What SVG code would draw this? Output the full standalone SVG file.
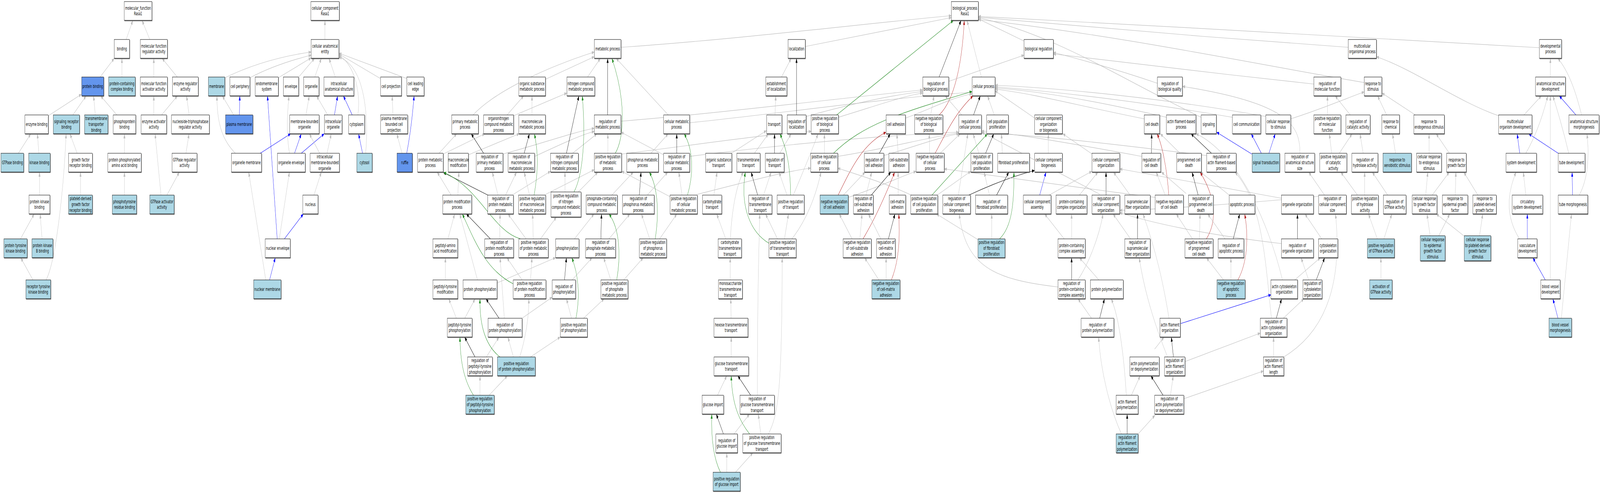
<svg xmlns="http://www.w3.org/2000/svg" width="7573" height="1261" viewBox="0 0 7573 1261" preserveAspectRatio="none">
<style>
@media (max-width: 7560px) { svg:root { width: 100vw; height: 100vh; } }
.e{fill:none;stroke-width:1.2}
.g{stroke:#BEBEBE;marker-end:url(#ag)}
.k{stroke:#000;marker-end:url(#ak)}
.gr{stroke:#228B22;marker-end:url(#agr)}
.r{stroke:#B22222;marker-end:url(#ar)}
.b{stroke:#0000FF;marker-end:url(#ab)}
.n{stroke:#000;stroke-width:1;filter:url(#sh)}
.w{fill:#fff}
.lb{fill:#ADD8E6}
.cb{fill:#6495ED}
.t{font-family:"DejaVu Sans","Liberation Sans",sans-serif;font-size:12.8px;text-anchor:middle;fill:#000}
</style>
<defs>
<filter id="sh" x="-5%" y="-5%" width="115%" height="130%"><feDropShadow dx="1.5" dy="1.5" stdDeviation="0" flood-color="#555"/></filter>
<marker id="ag" viewBox="0 0 12 9" refX="12" refY="4.5" markerWidth="12" markerHeight="9" markerUnits="userSpaceOnUse" orient="auto"><path d="M0,0 L12,4.5 L0,9 z" fill="#BEBEBE"/></marker>
<marker id="ak" viewBox="0 0 12 9" refX="12" refY="4.5" markerWidth="12" markerHeight="9" markerUnits="userSpaceOnUse" orient="auto"><path d="M0,0 L12,4.5 L0,9 z" fill="#000"/></marker>
<marker id="agr" viewBox="0 0 12 9" refX="12" refY="4.5" markerWidth="12" markerHeight="9" markerUnits="userSpaceOnUse" orient="auto"><path d="M0,0 L12,4.5 L0,9 z" fill="#228B22"/></marker>
<marker id="ar" viewBox="0 0 12 9" refX="12" refY="4.5" markerWidth="12" markerHeight="9" markerUnits="userSpaceOnUse" orient="auto"><path d="M0,0 L12,4.5 L0,9 z" fill="#B22222"/></marker>
<marker id="ab" viewBox="0 0 12 9" refX="12" refY="4.5" markerWidth="12" markerHeight="9" markerUnits="userSpaceOnUse" orient="auto"><path d="M0,0 L12,4.5 L0,9 z" fill="#0000FF"/></marker>
</defs>
<rect x="0" y="0" width="7573" height="1261" fill="#fff"/>
<g id="edges">
<path class="e g" d="M597,101 L629,52"/>
<path class="e g" d="M709,101 L672,52"/>
<path class="e g" d="M474,197 L541,149"/>
<path class="e g" d="M577,197 L577,149"/>
<path class="e g" d="M728,197 L728,149"/>
<path class="e g" d="M839,197 L767,149"/>
<path class="e g" d="M229,296 L386,241"/>
<path class="e g" d="M345,294 L408,245"/>
<path class="e g" d="M451,294 L443,245"/>
<path class="e g" d="M553,294 L476,245"/>
<path class="e g" d="M728,294 L728,245"/>
<path class="e g" d="M765,294 L840,245"/>
<path class="e g" d="M895,294 L883,245"/>
<path class="e g" d="M87,392 L146,342"/>
<path class="e g" d="M184,392 L177,342"/>
<path class="e g" d="M365,392 L331,342"/>
<path class="e g" d="M589,392 L589,342"/>
<path class="e g" d="M880,392 L895,342"/>
<path class="e g" d="M187,499 L187,440"/>
<path class="e g" d="M381,499 L381,440"/>
<path class="e g" d="M589,499 L589,440"/>
<path class="e g" d="M762,499 L734,342"/>
<path class="e g" d="M790,499 L849,440"/>
<path class="e g" d="M97,611 L162,547"/>
<path class="e g" d="M199,611 L190,547"/>
<path class="e g" d="M156,716 L98,659"/>
<path class="e g" d="M218,716 C265,668 302,482 313,342"/>
<path class="e g" d="M1538,101 L1538,52"/>
<path class="e g" d="M1064,199 Q1250,150 1473,133"/>
<path class="e g" d="M1183,199 Q1300,165 1473,141"/>
<path class="e g" d="M1317,199 L1473,148"/>
<path class="e g" d="M1414,197 L1489,149"/>
<path class="e g" d="M1490,197 L1521,149"/>
<path class="e g" d="M1587,197 L1557,149"/>
<path class="e g" d="M1694,294 C1710,230 1670,160 1604,142"/>
<path class="e g" d="M1731,392 C1745,300 1730,170 1604,146"/>
<path class="e g" d="M1801,201 L1604,138"/>
<path class="e g" d="M1926,201 L1604,136"/>
<path class="e g" d="M1106,294 L1052,245"/>
<path class="e b" d="M1133,294 L1135,245"/>
<path class="e g" d="M1114,392 C1059,362 1026,322 1027,245"/>
<path class="e b" d="M1232,392 L1376,342"/>
<path class="e b" d="M1312,611 L1266,245"/>
<path class="e g" d="M1258,716 L1177,440"/>
<path class="e b" d="M1276,716 L1303,659"/>
<path class="e g" d="M1448,294 L1464,245"/>
<path class="e g" d="M1551,294 L1498,245"/>
<path class="e b" d="M1583,294 L1598,245"/>
<path class="e b" d="M1667,294 L1625,245"/>
<path class="e g" d="M1860,294 L1856,245"/>
<path class="e g" d="M1903,392 L1878,342"/>
<path class="e b" d="M1925,392 C1944,338 1953,290 1960,245"/>
<path class="e g" d="M1370,392 C1356,346 1358,298 1368,245"/>
<path class="e b" d="M1394,392 L1426,342"/>
<path class="e b" d="M1426,392 L1535,342"/>
<path class="e g" d="M1513,392 L1464,342"/>
<path class="e g" d="M1548,392 L1568,342"/>
<path class="e b" d="M1716,392 L1697,342"/>
<path class="e g" d="M1486,499 L1521,440"/>
<path class="e g" d="M1322,611 L1370,440"/>
<path class="e b" d="M1346,611 L1436,547"/>
<path class="e g" d="M2239,294 C2350,230 2600,170 2813,133"/>
<path class="e g" d="M2581,203 L2813,145"/>
<path class="e g" d="M2400,294 L2479,245"/>
<path class="e g" d="M2431,296 L2683,238"/>
<path class="e g" d="M2518,294 L2518,245"/>
<path class="e g" d="M2078,392 L2162,342"/>
<path class="e g" d="M2098,394 L2295,342"/>
<path class="e g" d="M2217,396 L2458,342"/>
<path class="e k" d="M2289,392 L2230,342"/>
<path class="e g" d="M2380,394 C2550,370 2700,340 2813,328"/>
<path class="e k" d="M2481,392 L2506,342"/>
<path class="e g" d="M2531,400 C2650,370 2750,345 2813,336"/>
<path class="e k" d="M2681,392 L2740,245"/>
<path class="e g" d="M2710,392 L2826,342"/>
<path class="e g" d="M2135,499 L2069,440"/>
<path class="e g" d="M2167,499 L2172,440"/>
<path class="e k" d="M2309,499 L2098,441"/>
<path class="e g" d="M2357,499 L2330,440"/>
<path class="e g" d="M2393,499 L2445,440"/>
<path class="e g" d="M2430,497 L2606,438"/>
<path class="e g" d="M2506,499 L2481,440"/>
<path class="e gr" d="M2528,499 C2549,434 2547,386 2529,342"/>
<path class="e g" d="M2583,497 L2813,434"/>
<path class="e g" d="M2674,491 L2674,440"/>
<path class="e gr" d="M2717,491 C2756,450 2774,362 2756,245"/>
<path class="e g" d="M2737,491 L2830,440"/>
<path class="e g" d="M2120,611 L2152,547"/>
<path class="e k" d="M2321,611 L2207,547"/>
<path class="e g" d="M2365,611 L2367,547"/>
<path class="e g" d="M2490,611 L2404,547"/>
<path class="e g" d="M2524,611 L2521,547"/>
<path class="e gr" d="M2463,611 C2330,590 2270,480 2100,441"/>
<path class="e g" d="M2558,611 L2634,555"/>
<path class="e g" d="M2108,716 L2108,659"/>
<path class="e g" d="M2260,716 L2176,547"/>
<path class="e g" d="M2352,724 L2630,659"/>
<path class="e g" d="M2471,716 L2399,659"/>
<path class="e g" d="M2511,716 L2518,659"/>
<path class="e gr" d="M2429,726 C2300,690 2250,620 2188,547"/>
<path class="e k" d="M2672,716 L2681,659"/>
<path class="e g" d="M2160,814 L2124,764"/>
<path class="e g" d="M2200,814 L2249,764"/>
<path class="e k" d="M2362,814 L2300,764"/>
<path class="e g" d="M2387,814 L2367,659"/>
<path class="e g" d="M2471,814 L2614,760"/>
<path class="e g" d="M2705,814 L2681,764"/>
<path class="e gr" d="M2726,814 C2747,756 2737,700 2706,659"/>
<path class="e g" d="M2762,814 L2860,764"/>
<path class="e g" d="M2708,716 L2803,659"/>
<path class="e k" d="M2248,913 L2199,862"/>
<path class="e g" d="M2302,913 L2362,862"/>
<path class="e g" d="M2430,913 L2404,862"/>
<path class="e gr" d="M2366,913 C2282,877 2270,812 2272,764"/>
<path class="e g" d="M2460,913 C2486,868 2504,812 2503,764"/>
<path class="e g" d="M2511,913 L2652,862"/>
<path class="e g" d="M2272,1011 L2272,961"/>
<path class="e gr" d="M2241,1011 C2187,965 2178,909 2177,862"/>
<path class="e g" d="M2315,1011 L2402,961"/>
<path class="e g" d="M2939,121 C3500,100 4100,60 4503,40"/>
<path class="e g" d="M2781,197 L2842,149"/>
<path class="e k" d="M2876,294 L2876,149"/>
<path class="e g" d="M2939,310 C3400,290 4000,250 4367,230"/>
<path class="e g" d="M3163,294 L2916,149"/>
<path class="e g" d="M3264,314 C3700,290 4200,250 4601,236"/>
<path class="e g" d="M2877,392 L2877,342"/>
<path class="e gr" d="M2912,392 C2955,354 2964,257 2896,149"/>
<path class="e g" d="M2942,394 C3300,370 3600,345 3840,336"/>
<path class="e k" d="M3203,392 L3203,342"/>
<path class="e g" d="M3141,396 L2939,338"/>
<path class="e g" d="M3264,400 C3700,370 4200,345 4538,338"/>
<path class="e g" d="M3081,392 L3163,342"/>
<path class="e g" d="M2896,499 L2998,440"/>
<path class="e k" d="M3026,499 L3034,440"/>
<path class="e g" d="M3064,499 L3161,440"/>
<path class="e g" d="M3228,499 L3213,440"/>
<path class="e gr" d="M3254,499 C3281,450 3285,386 3238,342"/>
<path class="e g" d="M3171,503 L2942,438"/>
<path class="e g" d="M3300,497 C3500,470 3700,440 3837,430"/>
<path class="e g" d="M2719,611 L2812,547"/>
<path class="e k" d="M2844,611 L2847,547"/>
<path class="e g" d="M2882,611 L2982,547"/>
<path class="e g" d="M3075,611 L3036,547"/>
<path class="e gr" d="M3101,611 C3118,555 3118,483 3073,440"/>
<path class="e g" d="M3122,611 L3204,547"/>
<path class="e g" d="M2891,716 L2857,659"/>
<path class="e gr" d="M2919,716 C2937,660 2937,587 2882,547"/>
<path class="e g" d="M2952,716 L3045,659"/>
<path class="e g" d="M3811,119 C4100,90 4350,60 4503,45"/>
<path class="e g" d="M3699,197 L3745,149"/>
<path class="e k" d="M3770,294 L3770,149"/>
<path class="e g" d="M3815,298 C4000,270 4200,245 4367,234"/>
<path class="e g" d="M3668,294 L3672,245"/>
<path class="e gr" d="M3960,294 L4513,52"/>
<path class="e g" d="M3968,300 C4150,270 4280,245 4367,238"/>
<path class="e g" d="M3902,392 L3902,342"/>
<path class="e gr" d="M3945,392 C4080,320 4250,290 4601,234"/>
<path class="e g" d="M3965,400 C4200,380 4400,350 4538,340"/>
<path class="e g" d="M3462,392 L3628,334"/>
<path class="e g" d="M3571,392 L3637,342"/>
<path class="e k" d="M3666,392 L3666,342"/>
<path class="e g" d="M3691,392 L3745,342"/>
<path class="e g" d="M3379,499 L3394,440"/>
<path class="e k" d="M3586,499 L3555,440"/>
<path class="e g" d="M3614,499 L3650,440"/>
<path class="e g" d="M3725,499 L3687,440"/>
<path class="e gr" d="M3742,499 C3741,426 3723,378 3691,342"/>
<path class="e g" d="M3755,499 C3800,440 3840,390 3872,342"/>
<path class="e r" d="M3967,499 C4030,430 4080,370 4194,338"/>
<path class="e g" d="M3992,499 L4095,440"/>
<path class="e g" d="M4015,505 C4150,480 4250,455 4336,438"/>
<path class="e g" d="M3435,611 L3392,547"/>
<path class="e g" d="M3457,611 C3465,523 3492,466 3519,440"/>
<path class="e g" d="M3680,611 L3623,547"/>
<path class="e g" d="M3713,611 L3732,547"/>
<path class="e gr" d="M3639,622 C3555,595 3501,531 3528,440"/>
<path class="e g" d="M3748,611 C3818,563 3863,499 3886,440"/>
<path class="e g" d="M4070,611 L4080,547"/>
<path class="e g" d="M4033,611 L3972,547"/>
<path class="e r" d="M4085,611 C4110,587 4156,547 4235,440"/>
<path class="e g" d="M3456,716 L3456,659"/>
<path class="e g" d="M3460,814 L3459,764"/>
<path class="e g" d="M3461,913 L3461,862"/>
<path class="e g" d="M3396,1011 L3440,961"/>
<path class="e k" d="M3553,1011 L3492,961"/>
<path class="e g" d="M3585,1011 C3584,850 3588,700 3596,547"/>
<path class="e k" d="M3424,1110 L3390,1059"/>
<path class="e g" d="M3474,1110 L3548,1059"/>
<path class="e g" d="M3601,1110 L3589,1059"/>
<path class="e gr" d="M3548,1110 C3501,1078 3465,1037 3461,961"/>
<path class="e g" d="M3637,1110 C3682,1062 3702,1005 3702,659"/>
<path class="e g" d="M3440,1208 L3440,1158"/>
<path class="e gr" d="M3410,1208 C3379,1174 3365,1126 3369,1059"/>
<path class="e g" d="M3481,1208 L3564,1158"/>
<path class="e k" d="M4445,197 L4549,52"/>
<path class="e r" d="M4445,294 C4518,257 4554,161 4564,52"/>
<path class="e g" d="M4645,197 L4577,52"/>
<path class="e g" d="M4405,294 L4421,245"/>
<path class="e k" d="M4608,294 L4640,245"/>
<path class="e g" d="M4552,294 L4473,245"/>
<path class="e g" d="M4706,294 L4674,245"/>
<path class="e g" d="M4286,302 C4400,280 4500,250 4601,240"/>
<path class="e k" d="M4162,392 L4214,342"/>
<path class="e g" d="M4183,398 C4300,380 4450,350 4540,342"/>
<path class="e g" d="M4251,392 L4245,342"/>
<path class="e g" d="M4400,392 L4398,342"/>
<path class="e r" d="M4426,392 C4473,346 4518,290 4606,245"/>
<path class="e g" d="M4450,392 L4545,342"/>
<path class="e k" d="M4665,392 L4704,342"/>
<path class="e g" d="M4633,392 L4606,342"/>
<path class="e g" d="M4744,392 L4740,342"/>
<path class="e k" d="M4124,499 L4217,440"/>
<path class="e g" d="M4099,499 L4126,440"/>
<path class="e g" d="M4251,499 L4251,440"/>
<path class="e g" d="M4436,499 L4595,438"/>
<path class="e gr" d="M4411,499 L4674,342"/>
<path class="e g" d="M4313,499 C4200,470 4050,445 3965,430"/>
<path class="e g" d="M4536,499 L4581,342"/>
<path class="e k" d="M4586,499 C4700,470 4800,450 4897,436"/>
<path class="e g" d="M4683,499 L4658,440"/>
<path class="e k" d="M4717,499 L4775,440"/>
<path class="e g" d="M4694,611 L4694,547"/>
<path class="e g" d="M4629,613 L4432,547"/>
<path class="e gr" d="M4731,611 C4790,580 4800,520 4799,440"/>
<path class="e g" d="M5007,734 C4700,715 4570,680 4540,547"/>
<path class="e k" d="M4205,611 L4236,547"/>
<path class="e g" d="M4169,611 L4110,547"/>
<path class="e g" d="M4160,716 L4092,659"/>
<path class="e g" d="M4194,716 L4194,659"/>
<path class="e r" d="M4219,716 C4255,668 4260,611 4254,547"/>
<path class="e g" d="M4847,105 L4630,48"/>
<path class="e g" d="M4491,208 L4847,141"/>
<path class="e g" d="M4897,302 L4709,232"/>
<path class="e g" d="M4962,392 L4962,342"/>
<path class="e g" d="M5169,394 L5030,342"/>
<path class="e k" d="M5235,499 L5235,440"/>
<path class="e g" d="M5206,497 C5000,440 4800,380 4646,338"/>
<path class="e b" d="M4921,499 L4951,440"/>
<path class="e g" d="M4966,499 L5168,438"/>
<path class="e g" d="M5109,499 L5197,440"/>
<path class="e g" d="M5349,499 L5270,440"/>
<path class="e g" d="M5037,611 L4944,547"/>
<path class="e g" d="M5072,611 L5072,547"/>
<path class="e k" d="M5072,716 L5072,659"/>
<path class="e g" d="M5102,716 C5150,676 5200,611 5221,547"/>
<path class="e g" d="M5201,716 L5109,659"/>
<path class="e k" d="M5384,611 L5384,547"/>
<path class="e g" d="M5351,611 L5268,547"/>
<path class="e k" d="M5205,814 L5228,764"/>
<path class="e g" d="M5166,814 L5102,764"/>
<path class="e g" d="M5331,1011 C5322,925 5299,812 5259,764"/>
<path class="e g" d="M5355,1011 L5397,961"/>
<path class="e k" d="M5335,1110 L5335,1059"/>
<path class="e g" d="M5308,1110 C5254,1046 5209,949 5200,862"/>
<path class="e g" d="M5387,1110 L5467,1062"/>
<path class="e k" d="M5450,392 L5451,342"/>
<path class="e k" d="M5505,1011 L5447,961"/>
<path class="e g" d="M5526,913 C5480,850 5420,760 5392,659"/>
<path class="e g" d="M5533,814 C5505,720 5470,640 5410,547"/>
<path class="e g" d="M6065,623 C5700,600 5450,570 5300,544"/>
<path class="e g" d="M6065,507 C5700,470 5450,445 5300,432"/>
<path class="e g" d="M6242,502 C5900,520 5500,535 5300,538"/>
<path class="e g" d="M5478,213 C5300,180 5100,150 4986,134"/>
<path class="e g" d="M5416,304 C5100,270 4900,240 4710,228"/>
<path class="e g" d="M5521,300 C5200,260 4950,235 4710,225"/>
<path class="e g" d="M5685,300 C5300,200 5000,90 4630,45"/>
<path class="e g" d="M5833,300 C5400,260 5000,235 4710,222"/>
<path class="e g" d="M6109,304 C6250,280 6380,250 6457,235"/>
<path class="e g" d="M5992,298 C5500,250 5000,225 4710,218"/>
<path class="e g" d="M5404,400 C5100,370 4850,345 4646,335"/>
<path class="e g" d="M5585,392 L5492,342"/>
<path class="e k" d="M5734,392 L5637,342"/>
<path class="e g" d="M5711,398 C5300,370 4900,345 4646,340"/>
<path class="e b" d="M5925,394 L5758,338"/>
<path class="e b" d="M5970,392 L5922,342"/>
<path class="e b" d="M6006,392 L6036,342"/>
<path class="e g" d="M6153,392 C6153,320 6100,265 5597,221"/>
<path class="e g" d="M5515,499 L5472,440"/>
<path class="e r" d="M5532,499 C5524,434 5501,370 5476,342"/>
<path class="e g" d="M5468,505 C5100,480 4700,450 4469,432"/>
<path class="e k" d="M5671,499 L5642,440"/>
<path class="e g" d="M5614,495 L5497,440"/>
<path class="e g" d="M5818,499 L5682,440"/>
<path class="e g" d="M5677,611 L5680,547"/>
<path class="e g" d="M5644,611 L5567,547"/>
<path class="e r" d="M5710,611 C5746,579 5773,523 5680,440"/>
<path class="e k" d="M5837,611 L5868,547"/>
<path class="e g" d="M5798,611 L5716,547"/>
<path class="e g" d="M5826,716 L5826,659"/>
<path class="e g" d="M5791,716 L5710,659"/>
<path class="e r" d="M5859,716 C5900,676 5913,611 5891,547"/>
<path class="e k" d="M6141,611 L6141,547"/>
<path class="e g" d="M6128,716 L6250,659"/>
<path class="e g" d="M6070,716 C6000,560 5850,390 5661,342"/>
<path class="e k" d="M6041,814 L6066,764"/>
<path class="e g" d="M6018,814 C5990,680 5980,520 5845,440"/>
<path class="e g" d="M6074,814 L6172,764"/>
<path class="e b" d="M5586,828 L6016,754"/>
<path class="e g" d="M5465,893 L5510,862"/>
<path class="e k" d="M5554,913 L5544,862"/>
<path class="e g" d="M5608,925 L5965,852"/>
<path class="e g" d="M6028,913 L6028,862"/>
<path class="e g" d="M6076,913 C6300,840 6350,700 6321,547"/>
<path class="e g" d="M5540,1011 L5553,961"/>
<path class="e g" d="M5603,1020 L5980,949"/>
<path class="e g" d="M6381,121 C5800,100 5200,70 4630,44"/>
<path class="e g" d="M6218,215 C5800,190 5300,160 4986,138"/>
<path class="e g" d="M6457,211 C6000,170 5300,90 4630,50"/>
<path class="e g" d="M6283,294 L6283,245"/>
<path class="e g" d="M6391,294 L6319,245"/>
<path class="e g" d="M6563,294 L6520,245"/>
<path class="e g" d="M6699,294 L6541,238"/>
<path class="e g" d="M6303,392 L6292,342"/>
<path class="e g" d="M6339,392 L6400,342"/>
<path class="e g" d="M6452,392 L6437,342"/>
<path class="e g" d="M6605,392 L6591,342"/>
<path class="e g" d="M6764,392 L6764,342"/>
<path class="e g" d="M6860,392 L6797,342"/>
<path class="e g" d="M6269,499 L6194,440"/>
<path class="e g" d="M6459,499 L6459,440"/>
<path class="e g" d="M6425,499 L6346,440"/>
<path class="e g" d="M6568,499 L6495,440"/>
<path class="e g" d="M6748,499 L6758,440"/>
<path class="e g" d="M6779,499 L6860,440"/>
<path class="e g" d="M6888,499 L6891,440"/>
<path class="e g" d="M6256,611 L6176,547"/>
<path class="e k" d="M6230,716 L6270,659"/>
<path class="e g" d="M6194,716 L6158,659"/>
<path class="e g" d="M6519,611 L6477,547"/>
<path class="e g" d="M6550,611 L6588,547"/>
<path class="e g" d="M6536,716 L6536,659"/>
<path class="e g" d="M6769,603 L6754,547"/>
<path class="e g" d="M6810,603 L6862,547"/>
<path class="e g" d="M7286,122 C6500,100 5500,65 4630,42"/>
<path class="e g" d="M7338,197 L7338,149"/>
<path class="e g" d="M7486,294 C7461,241 7429,185 7373,149"/>
<path class="e b" d="M7459,294 L7380,245"/>
<path class="e g" d="M7213,294 L7296,245"/>
<path class="e g" d="M7093,296 C6900,260 6700,180 6515,145"/>
<path class="e b" d="M7193,392 L7181,342"/>
<path class="e g" d="M7222,392 C7262,354 7298,306 7326,245"/>
<path class="e b" d="M7375,392 L7235,342"/>
<path class="e g" d="M7425,392 C7398,330 7371,282 7350,245"/>
<path class="e b" d="M7443,499 L7441,440"/>
<path class="e g" d="M7475,499 C7515,458 7524,402 7511,342"/>
<path class="e g" d="M7222,499 L7210,440"/>
<path class="e b" d="M7229,611 L7229,547"/>
<path class="e g" d="M7192,611 C7145,571 7118,515 7176,440"/>
<path class="e b" d="M7314,716 L7255,659"/>
<path class="e g" d="M7338,716 L7338,245"/>
<path class="e b" d="M7374,814 L7350,764"/>
<path class="e g" d="M7390,814 L7438,547"/>
<path class="e g" d="M6995,499 L6928,440"/>
<path class="e g" d="M7003,603 L7018,547"/>
<path class="e g" d="M6928,603 L6798,547"/>
</g>
<g id="nodes">
<g id="n-mf-root"><rect class="n w" x="588" y="4" width="131" height="48"/><text class="t" x="653.5" y="24.6">molecular_function<tspan x="653.5" dy="14.7">Rasa1</tspan></text></g>
<g id="n-binding"><rect class="n w" x="541" y="101" width="72" height="48"/><text class="t" x="577" y="129.5">binding</text></g>
<g id="n-mfra"><rect class="n w" x="664" y="101" width="128" height="48"/><text class="t" x="728" y="121.6">molecular function<tspan x="728" dy="14.7">regulator activity</tspan></text></g>
<g id="n-protein-binding"><rect class="n cb" x="386.5" y="197" width="104" height="48"/><text class="t" x="438.5" y="225.5">protein binding</text></g>
<g id="n-pcb"><rect class="n lb" x="514" y="197" width="126" height="48"/><text class="t" x="577" y="217.6">protein-containing<tspan x="577" dy="14.7">complex binding</tspan></text></g>
<g id="n-mfaa"><rect class="n w" x="664" y="197" width="128" height="48"/><text class="t" x="728" y="217.6">molecular function<tspan x="728" dy="14.7">activator activity</tspan></text></g>
<g id="n-era"><rect class="n w" x="816.5" y="197" width="121.5" height="48"/><text class="t" x="877.3" y="217.6">enzyme regulator<tspan x="877.3" dy="14.7">activity</tspan></text></g>
<g id="n-enzyme-binding"><rect class="n w" x="118" y="294" width="110.6" height="48"/><text class="t" x="173.3" y="322.5">enzyme binding</text></g>
<g id="n-srb"><rect class="n lb" x="252.7" y="294" width="123.6" height="48"/><text class="t" x="314.5" y="314.6">signaling receptor<tspan x="314.5" dy="14.7">binding</tspan></text></g>
<g id="n-ttb"><rect class="n lb" x="400.4" y="294" width="110.2" height="48"/><text class="t" x="455.5" y="307.3">transmembrane<tspan x="455.5" dy="14.7">transporter</tspan><tspan x="455.5" dy="14.7">binding</tspan></text></g>
<g id="n-ppb"><rect class="n w" x="535.9" y="294" width="106.3" height="48"/><text class="t" x="589" y="314.6">phosphoprotein<tspan x="589" dy="14.7">binding</tspan></text></g>
<g id="n-eaa"><rect class="n w" x="667.6" y="294" width="120.8" height="48"/><text class="t" x="728" y="314.6">enzyme activator<tspan x="728" dy="14.7">activity</tspan></text></g>
<g id="n-ntpra"><rect class="n w" x="811.6" y="294" width="179.2" height="48"/><text class="t" x="901.2" y="314.6">nucleoside-triphosphatase<tspan x="901.2" dy="14.7">regulator activity</tspan></text></g>
<g id="n-gtpase-binding"><rect class="n lb" x="4.9" y="392" width="107.3" height="48"/><text class="t" x="58.5" y="420.5">GTPase binding</text></g>
<g id="n-kinase-binding"><rect class="n lb" x="135.9" y="392" width="101.7" height="48"/><text class="t" x="186.7" y="420.5">kinase binding</text></g>
<g id="n-gfrb"><rect class="n w" x="324.9" y="392" width="112.7" height="48"/><text class="t" x="381.2" y="412.6">growth factor<tspan x="381.2" dy="14.7">receptor binding</tspan></text></g>
<g id="n-ppaab"><rect class="n w" x="510.2" y="392" width="158.2" height="48"/><text class="t" x="589.3" y="412.6">protein phosphorylated<tspan x="589.3" dy="14.7">amino acid binding</tspan></text></g>
<g id="n-gra"><rect class="n w" x="814.5" y="392" width="117.5" height="48"/><text class="t" x="873.2" y="412.6">GTPase regulator<tspan x="873.2" dy="14.7">activity</tspan></text></g>
<g id="n-pkb"><rect class="n w" x="137.1" y="499" width="99.2" height="48"/><text class="t" x="186.7" y="519.6">protein kinase<tspan x="186.7" dy="14.7">binding</tspan></text></g>
<g id="n-pdgfrb"><rect class="n lb" x="324.9" y="499" width="112.7" height="48"/><text class="t" x="381.2" y="512.3">platelet-derived<tspan x="381.2" dy="14.7">growth factor</tspan><tspan x="381.2" dy="14.7">receptor binding</tspan></text></g>
<g id="n-ptrb"><rect class="n lb" x="531.4" y="499" width="115.3" height="48"/><text class="t" x="589" y="519.6">phosphotyrosine<tspan x="589" dy="14.7">residue binding</tspan></text></g>
<g id="n-gaa"><rect class="n lb" x="708.8" y="499" width="115.5" height="48"/><text class="t" x="766.5" y="519.6">GTPase activator<tspan x="766.5" dy="14.7">activity</tspan></text></g>
<g id="n-ptkb"><rect class="n lb" x="18.4" y="611" width="110.2" height="48"/><text class="t" x="73.5" y="631.6">protein tyrosine<tspan x="73.5" dy="14.7">kinase binding</tspan></text></g>
<g id="n-pkbb"><rect class="n lb" x="151.4" y="611" width="99.2" height="48"/><text class="t" x="201" y="631.6">protein kinase<tspan x="201" dy="14.7">B binding</tspan></text></g>
<g id="n-rtkb"><rect class="n lb" x="122.4" y="716" width="117.6" height="48"/><text class="t" x="181.2" y="736.6">receptor tyrosine<tspan x="181.2" dy="14.7">kinase binding</tspan></text></g>
<g id="n-cc-root"><rect class="n w" x="1471.5" y="4" width="134" height="48"/><text class="t" x="1538.5" y="24.6">cellular_component<tspan x="1538.5" dy="14.7">Rasa1</tspan></text></g>
<g id="n-cae"><rect class="n w" x="1472.8" y="101" width="131.4" height="48"/><text class="t" x="1538.5" y="121.6">cellular anatomical<tspan x="1538.5" dy="14.7">entity</tspan></text></g>
<g id="n-membrane"><rect class="n lb" x="986.3" y="197" width="77.6" height="48"/><text class="t" x="1025.1" y="225.5">membrane</text></g>
<g id="n-cell-periphery"><rect class="n w" x="1088.4" y="197" width="94.6" height="48"/><text class="t" x="1135.7" y="225.5">cell periphery</text></g>
<g id="n-endomembrane"><rect class="n w" x="1207.6" y="197" width="109.4" height="48"/><text class="t" x="1262.3" y="217.6">endomembrane<tspan x="1262.3" dy="14.7">system</tspan></text></g>
<g id="n-envelope"><rect class="n w" x="1341" y="197" width="72.5" height="48"/><text class="t" x="1377.3" y="225.5">envelope</text></g>
<g id="n-organelle"><rect class="n w" x="1437" y="197" width="72.5" height="48"/><text class="t" x="1473.3" y="225.5">organelle</text></g>
<g id="n-ias"><rect class="n w" x="1533" y="197" width="141.8" height="48"/><text class="t" x="1603.9" y="217.6">intracellular<tspan x="1603.9" dy="14.7">anatomical structure</tspan></text></g>
<g id="n-cell-projection"><rect class="n w" x="1801" y="197" width="99.3" height="48"/><text class="t" x="1850.7" y="225.5">cell projection</text></g>
<g id="n-cle"><rect class="n w" x="1926" y="197" width="81" height="48"/><text class="t" x="1966.5" y="217.6">cell leading<tspan x="1966.5" dy="14.7">edge</tspan></text></g>
<g id="n-plasma-membrane"><rect class="n cb" x="1067.5" y="294" width="129" height="48"/><text class="t" x="1132" y="322.5">plasma membrane</text></g>
<g id="n-mbo"><rect class="n w" x="1371.4" y="294" width="139" height="48"/><text class="t" x="1440.9" y="314.6">membrane-bounded<tspan x="1440.9" dy="14.7">organelle</tspan></text></g>
<g id="n-io"><rect class="n w" x="1535.3" y="294" width="83.7" height="48"/><text class="t" x="1577.2" y="314.6">intracellular<tspan x="1577.2" dy="14.7">organelle</tspan></text></g>
<g id="n-cytoplasm"><rect class="n w" x="1650.3" y="294" width="75.2" height="48"/><text class="t" x="1687.9" y="322.5">cytoplasm</text></g>
<g id="n-pmbcp"><rect class="n w" x="1801" y="294" width="128.7" height="48"/><text class="t" x="1865.4" y="307.3">plasma membrane<tspan x="1865.4" dy="14.7">bounded cell</tspan><tspan x="1865.4" dy="14.7">projection</tspan></text></g>
<g id="n-organelle-membrane"><rect class="n w" x="1095.3" y="392" width="142.5" height="48"/><text class="t" x="1166.6" y="420.5">organelle membrane</text></g>
<g id="n-organelle-envelope"><rect class="n w" x="1313" y="392" width="131.3" height="48"/><text class="t" x="1378.7" y="420.5">organelle envelope</text></g>
<g id="n-imbo"><rect class="n w" x="1467.9" y="392" width="138.5" height="48"/><text class="t" x="1537.2" y="405.3">intracellular<tspan x="1537.2" dy="14.7">membrane-bounded</tspan><tspan x="1537.2" dy="14.7">organelle</tspan></text></g>
<g id="n-cytosol"><rect class="n lb" x="1688.8" y="392" width="72.9" height="48"/><text class="t" x="1725.3" y="420.5">cytosol</text></g>
<g id="n-ruffle"><rect class="n cb" x="1879.5" y="392" width="72.4" height="48"/><text class="t" x="1915.7" y="420.5">ruffle</text></g>
<g id="n-nucleus"><rect class="n w" x="1433" y="499" width="72" height="48"/><text class="t" x="1469" y="527.5">nucleus</text></g>
<g id="n-nuclear-envelope"><rect class="n w" x="1255.3" y="611" width="118.4" height="48"/><text class="t" x="1314.5" y="639.5">nuclear envelope</text></g>
<g id="n-nuclear-membrane"><rect class="n lb" x="1200.6" y="716" width="129.2" height="48"/><text class="t" x="1265.2" y="744.5">nuclear membrane</text></g>
<g id="n-osmp"><rect class="n w" x="2455.4" y="197" width="125.9" height="48"/><text class="t" x="2518.4" y="217.6">organic substance<tspan x="2518.4" dy="14.7">metabolic process</tspan></text></g>
<g id="n-primary-mp"><rect class="n w" x="2138" y="294" width="126.3" height="48"/><text class="t" x="2201.2" y="314.6">primary metabolic<tspan x="2201.2" dy="14.7">process</tspan></text></g>
<g id="n-onmp"><rect class="n w" x="2288.8" y="294" width="142.1" height="48"/><text class="t" x="2359.9" y="307.3">organonitrogen<tspan x="2359.9" dy="14.7">compound metabolic</tspan><tspan x="2359.9" dy="14.7">process</tspan></text></g>
<g id="n-mmp"><rect class="n w" x="2455.4" y="294" width="125.9" height="48"/><text class="t" x="2518.4" y="314.6">macromolecule<tspan x="2518.4" dy="14.7">metabolic process</tspan></text></g>
<g id="n-protein-mp"><rect class="n w" x="1976.3" y="392" width="121.4" height="48"/><text class="t" x="2037" y="412.6">protein metabolic<tspan x="2037" dy="14.7">process</tspan></text></g>
<g id="n-mmod"><rect class="n w" x="2122" y="392" width="94.8" height="48"/><text class="t" x="2169.4" y="412.6">macromolecule<tspan x="2169.4" dy="14.7">modification</tspan></text></g>
<g id="n-rpmp"><rect class="n w" x="2253.9" y="392" width="126.3" height="48"/><text class="t" x="2317" y="405.3">regulation of<tspan x="2317" dy="14.7">primary metabolic</tspan><tspan x="2317" dy="14.7">process</tspan></text></g>
<g id="n-rmmp"><rect class="n w" x="2405.1" y="392" width="125.5" height="48"/><text class="t" x="2467.9" y="405.3">regulation of<tspan x="2467.9" dy="14.7">macromolecule</tspan><tspan x="2467.9" dy="14.7">metabolic process</tspan></text></g>
<g id="n-rncmp"><rect class="n w" x="2605.7" y="392" width="131.7" height="48"/><text class="t" x="2671.6" y="405.3">regulation of<tspan x="2671.6" dy="14.7">nitrogen compound</tspan><tspan x="2671.6" dy="14.7">metabolic process</tspan></text></g>
<g id="n-pmodp"><rect class="n w" x="2095.4" y="499" width="136.8" height="48"/><text class="t" x="2163.8" y="519.6">protein modification<tspan x="2163.8" dy="14.7">process</tspan></text></g>
<g id="n-rprotmp"><rect class="n w" x="2308.7" y="499" width="120.9" height="48"/><text class="t" x="2369.2" y="512.3">regulation of<tspan x="2369.2" dy="14.7">protein metabolic</tspan><tspan x="2369.2" dy="14.7">process</tspan></text></g>
<g id="n-prmmp"><rect class="n w" x="2454.5" y="499" width="128.1" height="48"/><text class="t" x="2518.6" y="512.3">positive regulation<tspan x="2518.6" dy="14.7">of macromolecule</tspan><tspan x="2518.6" dy="14.7">metabolic process</tspan></text></g>
<g id="n-prncmp"><rect class="n w" x="2607.5" y="491" width="142.2" height="64"/><text class="t" x="2678.6" y="505">positive regulation<tspan x="2678.6" dy="14.7">of nitrogen</tspan><tspan x="2678.6" dy="14.7">compound metabolic</tspan><tspan x="2678.6" dy="14.7">process</tspan></text></g>
<g id="n-paam"><rect class="n w" x="2048.8" y="611" width="117.7" height="48"/><text class="t" x="2107.7" y="631.6">peptidyl-amino<tspan x="2107.7" dy="14.7">acid modification</tspan></text></g>
<g id="n-rpmodp"><rect class="n w" x="2294.2" y="611" width="136.7" height="48"/><text class="t" x="2362.6" y="624.3">regulation of<tspan x="2362.6" dy="14.7">protein modification</tspan><tspan x="2362.6" dy="14.7">process</tspan></text></g>
<g id="n-prpmp"><rect class="n w" x="2455.4" y="611" width="139" height="48"/><text class="t" x="2524.9" y="624.3">positive regulation<tspan x="2524.9" dy="14.7">of protein metabolic</tspan><tspan x="2524.9" dy="14.7">process</tspan></text></g>
<g id="n-phosphorylation"><rect class="n w" x="2629.7" y="611" width="110.5" height="48"/><text class="t" x="2685" y="639.5">phosphorylation</text></g>
<g id="n-ptm"><rect class="n w" x="2048.8" y="716" width="117.7" height="48"/><text class="t" x="2107.7" y="736.6">peptidyl-tyrosine<tspan x="2107.7" dy="14.7">modification</tspan></text></g>
<g id="n-pphos"><rect class="n w" x="2191.4" y="716" width="160.8" height="48"/><text class="t" x="2271.8" y="744.5">protein phosphorylation</text></g>
<g id="n-prpmodp"><rect class="n w" x="2429.1" y="716" width="154.9" height="48"/><text class="t" x="2506.6" y="729.3">positive regulation<tspan x="2506.6" dy="14.7">of protein modification</tspan><tspan x="2506.6" dy="14.7">process</tspan></text></g>
<g id="n-rphos"><rect class="n w" x="2613.9" y="716" width="110.4" height="48"/><text class="t" x="2669.1" y="736.6">regulation of<tspan x="2669.1" dy="14.7">phosphorylation</tspan></text></g>
<g id="n-ptp"><rect class="n w" x="2117.1" y="814" width="117.3" height="48"/><text class="t" x="2175.8" y="834.6">peptidyl-tyrosine<tspan x="2175.8" dy="14.7">phosphorylation</tspan></text></g>
<g id="n-rpp"><rect class="n w" x="2310" y="814" width="160.8" height="48"/><text class="t" x="2390.4" y="834.6">regulation of<tspan x="2390.4" dy="14.7">protein phosphorylation</tspan></text></g>
<g id="n-prphos"><rect class="n w" x="2651.9" y="814" width="128.1" height="48"/><text class="t" x="2716" y="834.6">positive regulation<tspan x="2716" dy="14.7">of phosphorylation</tspan></text></g>
<g id="n-rptp"><rect class="n w" x="2213.1" y="913" width="117.8" height="48"/><text class="t" x="2272" y="926.3">regulation of<tspan x="2272" dy="14.7">peptidyl-tyrosine</tspan><tspan x="2272" dy="14.7">phosphorylation</tspan></text></g>
<g id="n-prpp"><rect class="n lb" x="2354.4" y="913" width="178.9" height="48"/><text class="t" x="2443.9" y="933.6">positive regulation<tspan x="2443.9" dy="14.7">of protein phosphorylation</tspan></text></g>
<g id="n-prptp"><rect class="n lb" x="2204.5" y="1011" width="134.5" height="48"/><text class="t" x="2271.8" y="1024.3">positive regulation<tspan x="2271.8" dy="14.7">of peptidyl-tyrosine</tspan><tspan x="2271.8" dy="14.7">phosphorylation</tspan></text></g>
<g id="n-metabolic-process"><rect class="n w" x="2813.1" y="101" width="125.9" height="48"/><text class="t" x="2876" y="129.5">metabolic process</text></g>
<g id="n-ncmp"><rect class="n w" x="2683.1" y="197" width="131.8" height="48"/><text class="t" x="2749" y="217.6">nitrogen compound<tspan x="2749" dy="14.7">metabolic process</tspan></text></g>
<g id="n-rmp"><rect class="n w" x="2813.1" y="294" width="125.9" height="48"/><text class="t" x="2876" y="314.6">regulation of<tspan x="2876" dy="14.7">metabolic process</tspan></text></g>
<g id="n-cmp"><rect class="n w" x="3140.9" y="294" width="123.2" height="48"/><text class="t" x="3202.5" y="314.6">cellular metabolic<tspan x="3202.5" dy="14.7">process</tspan></text></g>
<g id="n-prmp"><rect class="n w" x="2813" y="392" width="128.7" height="48"/><text class="t" x="2877.4" y="405.3">positive regulation<tspan x="2877.4" dy="14.7">of metabolic</tspan><tspan x="2877.4" dy="14.7">process</tspan></text></g>
<g id="n-phosphorus-mp"><rect class="n w" x="2966.6" y="392" width="149.9" height="48"/><text class="t" x="3041.6" y="412.6">phosphorus metabolic<tspan x="3041.6" dy="14.7">process</tspan></text></g>
<g id="n-rcmp"><rect class="n w" x="3140.9" y="392" width="123.2" height="48"/><text class="t" x="3202.5" y="405.3">regulation of<tspan x="3202.5" dy="14.7">cellular metabolic</tspan><tspan x="3202.5" dy="14.7">process</tspan></text></g>
<g id="n-ost"><rect class="n w" x="3339.7" y="392" width="123.6" height="48"/><text class="t" x="3401.5" y="412.6">organic substance<tspan x="3401.5" dy="14.7">transport</tspan></text></g>
<g id="n-pccmp"><rect class="n w" x="2774.6" y="499" width="147.1" height="48"/><text class="t" x="2848.2" y="512.3">phosphate-containing<tspan x="2848.2" dy="14.7">compound metabolic</tspan><tspan x="2848.2" dy="14.7">process</tspan></text></g>
<g id="n-rphosphorusmp"><rect class="n w" x="2946.2" y="499" width="150.3" height="48"/><text class="t" x="3021.4" y="512.3">regulation of<tspan x="3021.4" dy="14.7">phosphorus metabolic</tspan><tspan x="3021.4" dy="14.7">process</tspan></text></g>
<g id="n-prcmp"><rect class="n w" x="3171.2" y="499" width="129.1" height="48"/><text class="t" x="3235.8" y="512.3">positive regulation<tspan x="3235.8" dy="14.7">of cellular</tspan><tspan x="3235.8" dy="14.7">metabolic process</tspan></text></g>
<g id="n-carb-transport"><rect class="n w" x="3324.7" y="499" width="91.5" height="48"/><text class="t" x="3370.5" y="519.6">carbohydrate<tspan x="3370.5" dy="14.7">transport</tspan></text></g>
<g id="n-rphosphatemp"><rect class="n w" x="2771.4" y="611" width="142.2" height="48"/><text class="t" x="2842.5" y="624.3">regulation of<tspan x="2842.5" dy="14.7">phosphate metabolic</tspan><tspan x="2842.5" dy="14.7">process</tspan></text></g>
<g id="n-prphosphorusmp"><rect class="n w" x="3026.3" y="611" width="128.2" height="48"/><text class="t" x="3090.4" y="624.3">positive regulation<tspan x="3090.4" dy="14.7">of phosphorus</tspan><tspan x="3090.4" dy="14.7">metabolic process</tspan></text></g>
<g id="n-prphosphatemp"><rect class="n w" x="2843.9" y="716" width="128.1" height="48"/><text class="t" x="2908" y="729.3">positive regulation<tspan x="2908" dy="14.7">of phosphate</tspan><tspan x="2908" dy="14.7">metabolic process</tspan></text></g>
<g id="n-glucose-import"><rect class="n w" x="3323" y="1011" width="102.2" height="48"/><text class="t" x="3374.1" y="1039.5">glucose import</text></g>
<g id="n-localization"><rect class="n w" x="3730" y="101" width="81" height="48"/><text class="t" x="3770.5" y="129.5">localization</text></g>
<g id="n-eol"><rect class="n w" x="3624.9" y="197" width="99.2" height="48"/><text class="t" x="3674.5" y="217.6">establishment<tspan x="3674.5" dy="14.7">of localization</tspan></text></g>
<g id="n-transport"><rect class="n w" x="3629" y="294" width="72" height="48"/><text class="t" x="3665" y="322.5">transport</text></g>
<g id="n-rol"><rect class="n w" x="3725.9" y="294" width="89.2" height="48"/><text class="t" x="3770.5" y="314.6">regulation of<tspan x="3770.5" dy="14.7">localization</tspan></text></g>
<g id="n-prbp"><rect class="n w" x="3839.5" y="294" width="128.6" height="48"/><text class="t" x="3903.8" y="307.3">positive regulation<tspan x="3903.8" dy="14.7">of biological</tspan><tspan x="3903.8" dy="14.7">process</tspan></text></g>
<g id="n-tt"><rect class="n w" x="3487.3" y="392" width="110.4" height="48"/><text class="t" x="3542.5" y="412.6">transmembrane<tspan x="3542.5" dy="14.7">transport</tspan></text></g>
<g id="n-rt"><rect class="n w" x="3622.2" y="392" width="88.8" height="48"/><text class="t" x="3666.6" y="412.6">regulation of<tspan x="3666.6" dy="14.7">transport</tspan></text></g>
<g id="n-prcp"><rect class="n w" x="3837.3" y="392" width="128.1" height="48"/><text class="t" x="3901.4" y="405.3">positive regulation<tspan x="3901.4" dy="14.7">of cellular</tspan><tspan x="3901.4" dy="14.7">process</tspan></text></g>
<g id="n-rtt"><rect class="n w" x="3543.9" y="499" width="109.5" height="48"/><text class="t" x="3598.7" y="512.3">regulation of<tspan x="3598.7" dy="14.7">transmembrane</tspan><tspan x="3598.7" dy="14.7">transport</tspan></text></g>
<g id="n-prt"><rect class="n w" x="3678.3" y="499" width="128.2" height="48"/><text class="t" x="3742.4" y="519.6">positive regulation<tspan x="3742.4" dy="14.7">of transport</tspan></text></g>
<g id="n-ncad"><rect class="n lb" x="3881.2" y="499" width="133.6" height="48"/><text class="t" x="3948" y="519.6">negative regulation<tspan x="3948" dy="14.7">of cell adhesion</tspan></text></g>
<g id="n-rcsa"><rect class="n w" x="4039.7" y="499" width="93.7" height="48"/><text class="t" x="4086.6" y="512.3">regulation of<tspan x="4086.6" dy="14.7">cell-substrate</tspan><tspan x="4086.6" dy="14.7">adhesion</tspan></text></g>
<g id="n-ctt"><rect class="n w" x="3399.4" y="611" width="110" height="48"/><text class="t" x="3454.4" y="624.3">carbohydrate<tspan x="3454.4" dy="14.7">transmembrane</tspan><tspan x="3454.4" dy="14.7">transport</tspan></text></g>
<g id="n-prtt"><rect class="n w" x="3639.9" y="611" width="128.1" height="48"/><text class="t" x="3704" y="624.3">positive regulation<tspan x="3704" dy="14.7">of transmembrane</tspan><tspan x="3704" dy="14.7">transport</tspan></text></g>
<g id="n-nrcsa"><rect class="n w" x="3990.3" y="611" width="133.6" height="48"/><text class="t" x="4057.1" y="624.3">negative regulation<tspan x="4057.1" dy="14.7">of cell-substrate</tspan><tspan x="4057.1" dy="14.7">adhesion</tspan></text></g>
<g id="n-mtt"><rect class="n w" x="3400.3" y="716" width="113.2" height="48"/><text class="t" x="3456.9" y="729.3">monosaccharide<tspan x="3456.9" dy="14.7">transmembrane</tspan><tspan x="3456.9" dy="14.7">transport</tspan></text></g>
<g id="n-htt"><rect class="n w" x="3379.5" y="814" width="160.7" height="48"/><text class="t" x="3459.9" y="834.6">hexose transmembrane<tspan x="3459.9" dy="14.7">transport</tspan></text></g>
<g id="n-gtt"><rect class="n w" x="3379.5" y="913" width="163.5" height="48"/><text class="t" x="3461.3" y="933.6">glucose transmembrane<tspan x="3461.3" dy="14.7">transport</tspan></text></g>
<g id="n-rgtt"><rect class="n w" x="3502.2" y="1011" width="163" height="48"/><text class="t" x="3583.7" y="1024.3">regulation of<tspan x="3583.7" dy="14.7">glucose transmembrane</tspan><tspan x="3583.7" dy="14.7">transport</tspan></text></g>
<g id="n-rgi"><rect class="n w" x="3388.5" y="1110" width="101.9" height="48"/><text class="t" x="3439.5" y="1130.6">regulation of<tspan x="3439.5" dy="14.7">glucose import</tspan></text></g>
<g id="n-prgtt"><rect class="n w" x="3515.3" y="1110" width="181.6" height="48"/><text class="t" x="3606.1" y="1123.3">positive regulation<tspan x="3606.1" dy="14.7">of glucose transmembrane</tspan><tspan x="3606.1" dy="14.7">transport</tspan></text></g>
<g id="n-prgi"><rect class="n lb" x="3375.4" y="1208" width="128.2" height="48"/><text class="t" x="3439.5" y="1228.6">positive regulation<tspan x="3439.5" dy="14.7">of glucose import</tspan></text></g>
<g id="n-bp-root"><rect class="n w" x="4503.3" y="4" width="126.8" height="48"/><text class="t" x="4566.7" y="24.6">biological_process<tspan x="4566.7" dy="14.7">Rasa1</tspan></text></g>
<g id="n-rbp"><rect class="n w" x="4367.5" y="197" width="123.1" height="48"/><text class="t" x="4429" y="217.6">regulation of<tspan x="4429" dy="14.7">biological process</tspan></text></g>
<g id="n-cellular-process"><rect class="n w" x="4601.6" y="197" width="107.8" height="48"/><text class="t" x="4655.5" y="225.5">cellular process</text></g>
<g id="n-cell-adhesion"><rect class="n w" x="4194" y="294" width="91.5" height="48"/><text class="t" x="4239.8" y="322.5">cell adhesion</text></g>
<g id="n-nrbp"><rect class="n w" x="4329" y="294" width="133.6" height="48"/><text class="t" x="4395.8" y="307.3">negative regulation<tspan x="4395.8" dy="14.7">of biological</tspan><tspan x="4395.8" dy="14.7">process</tspan></text></g>
<g id="n-rcp"><rect class="n w" x="4538.2" y="294" width="107.3" height="48"/><text class="t" x="4591.8" y="314.6">regulation of<tspan x="4591.8" dy="14.7">cellular process</tspan></text></g>
<g id="n-cpp"><rect class="n w" x="4670" y="294" width="102.3" height="48"/><text class="t" x="4721.2" y="314.6">cell population<tspan x="4721.2" dy="14.7">proliferation</tspan></text></g>
<g id="n-rca"><rect class="n w" x="4091.3" y="392" width="91.9" height="48"/><text class="t" x="4137.2" y="412.6">regulation of<tspan x="4137.2" dy="14.7">cell adhesion</tspan></text></g>
<g id="n-csa"><rect class="n w" x="4207.6" y="392" width="93.8" height="48"/><text class="t" x="4254.5" y="412.6">cell-substrate<tspan x="4254.5" dy="14.7">adhesion</tspan></text></g>
<g id="n-nrcp"><rect class="n w" x="4335.8" y="392" width="133.1" height="48"/><text class="t" x="4402.3" y="405.3">negative regulation<tspan x="4402.3" dy="14.7">of cellular</tspan><tspan x="4402.3" dy="14.7">process</tspan></text></g>
<g id="n-rcpp"><rect class="n w" x="4595.3" y="392" width="102.3" height="48"/><text class="t" x="4646.4" y="405.3">regulation of<tspan x="4646.4" dy="14.7">cell population</tspan><tspan x="4646.4" dy="14.7">proliferation</tspan></text></g>
<g id="n-fp"><rect class="n w" x="4722" y="392" width="150.3" height="48"/><text class="t" x="4797.1" y="420.5">fibroblast proliferation</text></g>
<g id="n-cma"><rect class="n w" x="4209" y="499" width="77.4" height="48"/><text class="t" x="4247.7" y="519.6">cell-matrix<tspan x="4247.7" dy="14.7">adhesion</tspan></text></g>
<g id="n-prcpp"><rect class="n w" x="4310.4" y="499" width="128.2" height="48"/><text class="t" x="4374.5" y="512.3">positive regulation<tspan x="4374.5" dy="14.7">of cell population</tspan><tspan x="4374.5" dy="14.7">proliferation</tspan></text></g>
<g id="n-rccb"><rect class="n w" x="4462.6" y="499" width="130.4" height="48"/><text class="t" x="4527.8" y="512.3">regulation of<tspan x="4527.8" dy="14.7">cellular component</tspan><tspan x="4527.8" dy="14.7">biogenesis</tspan></text></g>
<g id="n-rfp"><rect class="n w" x="4617.9" y="499" width="150.8" height="48"/><text class="t" x="4693.3" y="519.6">regulation of<tspan x="4693.3" dy="14.7">fibroblast proliferation</tspan></text></g>
<g id="n-rcma"><rect class="n w" x="4148.8" y="611" width="88.7" height="48"/><text class="t" x="4193.1" y="624.3">regulation of<tspan x="4193.1" dy="14.7">cell-matrix</tspan><tspan x="4193.1" dy="14.7">adhesion</tspan></text></g>
<g id="n-prfp"><rect class="n lb" x="4629.2" y="611" width="127.7" height="48"/><text class="t" x="4693" y="624.3">positive regulation<tspan x="4693" dy="14.7">of fibroblast</tspan><tspan x="4693" dy="14.7">proliferation</tspan></text></g>
<g id="n-nrcma"><rect class="n lb" x="4126.6" y="716" width="133.1" height="48"/><text class="t" x="4193.1" y="729.3">negative regulation<tspan x="4193.1" dy="14.7">of cell-matrix</tspan><tspan x="4193.1" dy="14.7">adhesion</tspan></text></g>
<g id="n-bio-reg"><rect class="n w" x="4846.5" y="101" width="139" height="48"/><text class="t" x="4916" y="129.5">biological regulation</text></g>
<g id="n-ccoob"><rect class="n w" x="4897.2" y="294" width="130.9" height="48"/><text class="t" x="4962.6" y="307.3">cellular component<tspan x="4962.6" dy="14.7">organization</tspan><tspan x="4962.6" dy="14.7">or biogenesis</tspan></text></g>
<g id="n-cell-death"><rect class="n w" x="5415.7" y="294" width="73.3" height="48"/><text class="t" x="5452.3" y="322.5">cell death</text></g>
<g id="n-ccb"><rect class="n w" x="4897.2" y="392" width="130.9" height="48"/><text class="t" x="4962.6" y="412.6">cellular component<tspan x="4962.6" dy="14.7">biogenesis</tspan></text></g>
<g id="n-ccorg"><rect class="n w" x="5168.9" y="392" width="131.3" height="48"/><text class="t" x="5234.5" y="412.6">cellular component<tspan x="5234.5" dy="14.7">organization</tspan></text></g>
<g id="n-rcd"><rect class="n w" x="5404.4" y="392" width="89.1" height="48"/><text class="t" x="5449" y="412.6">regulation of<tspan x="5449" dy="14.7">cell death</tspan></text></g>
<g id="n-cca"><rect class="n w" x="4843.8" y="499" width="130.8" height="48"/><text class="t" x="4909.2" y="519.6">cellular component<tspan x="4909.2" dy="14.7">assembly</tspan></text></g>
<g id="n-pcco"><rect class="n w" x="4998.7" y="499" width="146.2" height="48"/><text class="t" x="5071.8" y="519.6">protein-containing<tspan x="5071.8" dy="14.7">complex organization</tspan></text></g>
<g id="n-rcco"><rect class="n w" x="5168.9" y="499" width="131.3" height="48"/><text class="t" x="5234.5" y="512.3">regulation of<tspan x="5234.5" dy="14.7">cellular component</tspan><tspan x="5234.5" dy="14.7">organization</tspan></text></g>
<g id="n-sfo"><rect class="n w" x="5324.2" y="499" width="120" height="48"/><text class="t" x="5384.2" y="519.6">supramolecular<tspan x="5384.2" dy="14.7">fiber organization</tspan></text></g>
<g id="n-ncd"><rect class="n w" x="5467.3" y="499" width="134" height="48"/><text class="t" x="5534.3" y="519.6">negative regulation<tspan x="5534.3" dy="14.7">of cell death</tspan></text></g>
<g id="n-pcca"><rect class="n w" x="5007.3" y="611" width="129" height="48"/><text class="t" x="5071.8" y="631.6">protein-containing<tspan x="5071.8" dy="14.7">complex assembly</tspan></text></g>
<g id="n-rsfo"><rect class="n w" x="5324.2" y="611" width="120" height="48"/><text class="t" x="5384.2" y="624.3">regulation of<tspan x="5384.2" dy="14.7">supramolecular</tspan><tspan x="5384.2" dy="14.7">fiber organization</tspan></text></g>
<g id="n-rpcca"><rect class="n w" x="5007.3" y="716" width="129" height="48"/><text class="t" x="5071.8" y="729.3">regulation of<tspan x="5071.8" dy="14.7">protein-containing</tspan><tspan x="5071.8" dy="14.7">complex assembly</tspan></text></g>
<g id="n-ppoly"><rect class="n w" x="5161.2" y="716" width="154.9" height="48"/><text class="t" x="5238.6" y="744.5">protein polymerization</text></g>
<g id="n-rppoly"><rect class="n w" x="5117.3" y="814" width="154.8" height="48"/><text class="t" x="5194.7" y="834.6">regulation of<tspan x="5194.7" dy="14.7">protein polymerization</tspan></text></g>
<g id="n-apd"><rect class="n w" x="5347.8" y="913" width="138.9" height="48"/><text class="t" x="5417.2" y="933.6">actin polymerization<tspan x="5417.2" dy="14.7">or depolymerization</tspan></text></g>
<g id="n-afp"><rect class="n w" x="5282.6" y="1011" width="104.1" height="48"/><text class="t" x="5334.6" y="1031.6">actin filament<tspan x="5334.6" dy="14.7">polymerization</tspan></text></g>
<g id="n-rapd"><rect class="n w" x="5465" y="1011" width="138.1" height="48"/><text class="t" x="5534" y="1024.3">regulation of<tspan x="5534" dy="14.7">actin polymerization</tspan><tspan x="5534" dy="14.7">or depolymerization</tspan></text></g>
<g id="n-rafp"><rect class="n lb" x="5282.6" y="1110" width="104.1" height="48"/><text class="t" x="5334.6" y="1123.3">regulation of<tspan x="5334.6" dy="14.7">actin filament</tspan><tspan x="5334.6" dy="14.7">polymerization</tspan></text></g>
<g id="n-rbq"><rect class="n w" x="5478.1" y="197" width="118.2" height="48"/><text class="t" x="5537.2" y="217.6">regulation of<tspan x="5537.2" dy="14.7">biological quality</tspan></text></g>
<g id="n-afbp"><rect class="n w" x="5520.7" y="294" width="139.5" height="48"/><text class="t" x="5590.4" y="314.6">actin filament-based<tspan x="5590.4" dy="14.7">process</tspan></text></g>
<g id="n-signaling"><rect class="n w" x="5685.1" y="294" width="72" height="48"/><text class="t" x="5721.1" y="322.5">signaling</text></g>
<g id="n-cell-comm"><rect class="n w" x="5833.1" y="294" width="134.1" height="48"/><text class="t" x="5900.1" y="322.5">cell communication</text></g>
<g id="n-crs"><rect class="n w" x="5991.6" y="294" width="117.3" height="48"/><text class="t" x="6050.2" y="314.6">cellular response<tspan x="6050.2" dy="14.7">to stimulus</tspan></text></g>
<g id="n-pcd"><rect class="n w" x="5569.1" y="392" width="116.9" height="48"/><text class="t" x="5627.5" y="412.6">programmed cell<tspan x="5627.5" dy="14.7">death</tspan></text></g>
<g id="n-rafbp"><rect class="n w" x="5711.3" y="392" width="139.5" height="48"/><text class="t" x="5781" y="405.3">regulation of<tspan x="5781" dy="14.7">actin filament-based</tspan><tspan x="5781" dy="14.7">process</tspan></text></g>
<g id="n-st"><rect class="n lb" x="5926.4" y="392" width="130.4" height="48"/><text class="t" x="5991.6" y="420.5">signal transduction</text></g>
<g id="n-rass"><rect class="n w" x="6081.3" y="392" width="141.2" height="48"/><text class="t" x="6151.9" y="405.3">regulation of<tspan x="6151.9" dy="14.7">anatomical structure</tspan><tspan x="6151.9" dy="14.7">size</tspan></text></g>
<g id="n-rpcd"><rect class="n w" x="5624.8" y="499" width="117.8" height="48"/><text class="t" x="5683.7" y="512.3">regulation of<tspan x="5683.7" dy="14.7">programmed cell</tspan><tspan x="5683.7" dy="14.7">death</tspan></text></g>
<g id="n-ap"><rect class="n w" x="5818.2" y="499" width="120.9" height="48"/><text class="t" x="5878.6" y="527.5">apoptotic process</text></g>
<g id="n-oo"><rect class="n w" x="6065" y="499" width="152" height="48"/><text class="t" x="6141" y="527.5">organelle organization</text></g>
<g id="n-nrpcd"><rect class="n w" x="5608.1" y="611" width="133.1" height="48"/><text class="t" x="5674.6" y="624.3">negative regulation<tspan x="5674.6" dy="14.7">of programmed</tspan><tspan x="5674.6" dy="14.7">cell death</tspan></text></g>
<g id="n-rap"><rect class="n w" x="5766.1" y="611" width="120.9" height="48"/><text class="t" x="5826.5" y="631.6">regulation of<tspan x="5826.5" dy="14.7">apoptotic process</tspan></text></g>
<g id="n-roo"><rect class="n w" x="6065" y="611" width="152" height="48"/><text class="t" x="6141" y="631.6">regulation of<tspan x="6141" dy="14.7">organelle organization</tspan></text></g>
<g id="n-nrap"><rect class="n lb" x="5759.8" y="716" width="133.1" height="48"/><text class="t" x="5826.3" y="729.3">negative regulation<tspan x="5826.3" dy="14.7">of apoptotic</tspan><tspan x="5826.3" dy="14.7">process</tspan></text></g>
<g id="n-aco"><rect class="n w" x="6015.6" y="716" width="125.9" height="48"/><text class="t" x="6078.5" y="736.6">actin cytoskeleton<tspan x="6078.5" dy="14.7">organization</tspan></text></g>
<g id="n-rco"><rect class="n w" x="6167.3" y="716" width="89.6" height="48"/><text class="t" x="6212.1" y="729.3">regulation of<tspan x="6212.1" dy="14.7">cytoskeleton</tspan><tspan x="6212.1" dy="14.7">organization</tspan></text></g>
<g id="n-afo"><rect class="n w" x="5489.9" y="814" width="96.5" height="48"/><text class="t" x="5538.1" y="834.6">actin filament<tspan x="5538.1" dy="14.7">organization</tspan></text></g>
<g id="n-racto"><rect class="n w" x="5964.9" y="814" width="126.3" height="48"/><text class="t" x="6028" y="827.3">regulation of<tspan x="6028" dy="14.7">actin cytoskeleton</tspan><tspan x="6028" dy="14.7">organization</tspan></text></g>
<g id="n-rafo"><rect class="n w" x="5511.6" y="913" width="96.5" height="48"/><text class="t" x="5559.8" y="926.3">regulation of<tspan x="5559.8" dy="14.7">actin filament</tspan><tspan x="5559.8" dy="14.7">organization</tspan></text></g>
<g id="n-rafl"><rect class="n w" x="5979.8" y="913" width="96.5" height="48"/><text class="t" x="6028" y="926.3">regulation of<tspan x="6028" dy="14.7">actin filament</tspan><tspan x="6028" dy="14.7">length</tspan></text></g>
<g id="n-mop"><rect class="n w" x="6381" y="101" width="133.6" height="48"/><text class="t" x="6447.8" y="121.6">multicellular<tspan x="6447.8" dy="14.7">organismal process</tspan></text></g>
<g id="n-rmf"><rect class="n w" x="6218.4" y="197" width="128.2" height="48"/><text class="t" x="6282.5" y="217.6">regulation of<tspan x="6282.5" dy="14.7">molecular function</tspan></text></g>
<g id="n-rts"><rect class="n w" x="6457.1" y="197" width="82.8" height="48"/><text class="t" x="6498.5" y="217.6">response to<tspan x="6498.5" dy="14.7">stimulus</tspan></text></g>
<g id="n-prmf"><rect class="n w" x="6218.4" y="294" width="128.2" height="48"/><text class="t" x="6282.5" y="307.3">positive regulation<tspan x="6282.5" dy="14.7">of molecular</tspan><tspan x="6282.5" dy="14.7">function</tspan></text></g>
<g id="n-rcata"><rect class="n w" x="6370.6" y="294" width="114.5" height="48"/><text class="t" x="6427.8" y="314.6">regulation of<tspan x="6427.8" dy="14.7">catalytic activity</tspan></text></g>
<g id="n-rtc"><rect class="n w" x="6540.8" y="294" width="83.3" height="48"/><text class="t" x="6582.4" y="314.6">response to<tspan x="6582.4" dy="14.7">chemical</tspan></text></g>
<g id="n-rtes"><rect class="n w" x="6691.6" y="294" width="144.5" height="48"/><text class="t" x="6763.8" y="314.6">response to<tspan x="6763.8" dy="14.7">endogenous stimulus</tspan></text></g>
<g id="n-prca"><rect class="n w" x="6246.5" y="392" width="128.2" height="48"/><text class="t" x="6310.6" y="405.3">positive regulation<tspan x="6310.6" dy="14.7">of catalytic</tspan><tspan x="6310.6" dy="14.7">activity</tspan></text></g>
<g id="n-rha"><rect class="n w" x="6398.7" y="392" width="122.7" height="48"/><text class="t" x="6460" y="412.6">regulation of<tspan x="6460" dy="14.7">hydrolase activity</tspan></text></g>
<g id="n-rtxs"><rect class="n lb" x="6545.8" y="392" width="134.5" height="48"/><text class="t" x="6613" y="412.6">response to<tspan x="6613" dy="14.7">xenobiotic stimulus</tspan></text></g>
<g id="n-cres"><rect class="n w" x="6705.2" y="392" width="117.3" height="48"/><text class="t" x="6763.8" y="405.3">cellular response<tspan x="6763.8" dy="14.7">to endogenous</tspan><tspan x="6763.8" dy="14.7">stimulus</tspan></text></g>
<g id="n-rtgf"><rect class="n w" x="6847" y="392" width="93" height="48"/><text class="t" x="6893.5" y="412.6">response to<tspan x="6893.5" dy="14.7">growth factor</tspan></text></g>
<g id="n-rccs"><rect class="n w" x="6241.5" y="499" width="130.4" height="48"/><text class="t" x="6306.7" y="512.3">regulation of<tspan x="6306.7" dy="14.7">cellular component</tspan><tspan x="6306.7" dy="14.7">size</tspan></text></g>
<g id="n-prha"><rect class="n w" x="6395.9" y="499" width="128.2" height="48"/><text class="t" x="6460" y="512.3">positive regulation<tspan x="6460" dy="14.7">of hydrolase</tspan><tspan x="6460" dy="14.7">activity</tspan></text></g>
<g id="n-rgtpa"><rect class="n w" x="6548" y="499" width="106.5" height="48"/><text class="t" x="6601.2" y="519.6">regulation of<tspan x="6601.2" dy="14.7">GTPase activity</tspan></text></g>
<g id="n-crgfs"><rect class="n w" x="6683.9" y="499" width="117.3" height="48"/><text class="t" x="6742.5" y="512.3">cellular response<tspan x="6742.5" dy="14.7">to growth factor</tspan><tspan x="6742.5" dy="14.7">stimulus</tspan></text></g>
<g id="n-rteg"><rect class="n w" x="6826.6" y="499" width="120.6" height="48"/><text class="t" x="6886.9" y="512.3">response to<tspan x="6886.9" dy="14.7">epidermal growth</tspan><tspan x="6886.9" dy="14.7">factor</tspan></text></g>
<g id="n-co"><rect class="n w" x="6241.1" y="611" width="91" height="48"/><text class="t" x="6286.6" y="631.6">cytoskeleton<tspan x="6286.6" dy="14.7">organization</tspan></text></g>
<g id="n-prgtpa"><rect class="n lb" x="6472" y="611" width="128.2" height="48"/><text class="t" x="6536.1" y="631.6">positive regulation<tspan x="6536.1" dy="14.7">of GTPase activity</tspan></text></g>
<g id="n-creg"><rect class="n lb" x="6722.4" y="603" width="117.7" height="64"/><text class="t" x="6781.2" y="617">cellular response<tspan x="6781.2" dy="14.7">to epidermal</tspan><tspan x="6781.2" dy="14.7">growth factor</tspan><tspan x="6781.2" dy="14.7">stimulus</tspan></text></g>
<g id="n-agtpa"><rect class="n lb" x="6482.4" y="716" width="106.9" height="48"/><text class="t" x="6535.8" y="736.6">activation of<tspan x="6535.8" dy="14.7">GTPase activity</tspan></text></g>
<g id="n-dp"><rect class="n w" x="7286.3" y="101" width="104.7" height="48"/><text class="t" x="7338.6" y="121.6">developmental<tspan x="7338.6" dy="14.7">process</tspan></text></g>
<g id="n-asd"><rect class="n w" x="7267.8" y="197" width="141.7" height="48"/><text class="t" x="7338.6" y="217.6">anatomical structure<tspan x="7338.6" dy="14.7">development</tspan></text></g>
<g id="n-mod"><rect class="n w" x="7093" y="294" width="158" height="48"/><text class="t" x="7172" y="314.6">multicellular<tspan x="7172" dy="14.7">organism development</tspan></text></g>
<g id="n-asm"><rect class="n w" x="7426.3" y="294" width="141.7" height="48"/><text class="t" x="7497.1" y="314.6">anatomical structure<tspan x="7497.1" dy="14.7">morphogenesis</tspan></text></g>
<g id="n-sd"><rect class="n w" x="7127.8" y="392" width="144.5" height="48"/><text class="t" x="7200" y="420.5">system development</text></g>
<g id="n-td"><rect class="n w" x="7375.2" y="392" width="126.5" height="48"/><text class="t" x="7438.4" y="420.5">tube development</text></g>
<g id="n-rpdgf"><rect class="n w" x="6971.6" y="499" width="110.6" height="48"/><text class="t" x="7026.9" y="512.3">response to<tspan x="7026.9" dy="14.7">platelet-derived</tspan><tspan x="7026.9" dy="14.7">growth factor</tspan></text></g>
<g id="n-csd"><rect class="n w" x="7157.1" y="499" width="144.5" height="48"/><text class="t" x="7229.3" y="519.6">circulatory<tspan x="7229.3" dy="14.7">system development</tspan></text></g>
<g id="n-tm"><rect class="n w" x="7375.2" y="499" width="140" height="48"/><text class="t" x="7445.2" y="527.5">tube morphogenesis</text></g>
<g id="n-crpdgf"><rect class="n lb" x="6930.5" y="603" width="126" height="64"/><text class="t" x="6993.5" y="617">cellular response<tspan x="6993.5" dy="14.7">to platelet-derived</tspan><tspan x="6993.5" dy="14.7">growth factor</tspan><tspan x="6993.5" dy="14.7">stimulus</tspan></text></g>
<g id="n-vd"><rect class="n w" x="7183.3" y="611" width="91.7" height="48"/><text class="t" x="7229.1" y="631.6">vasculature<tspan x="7229.1" dy="14.7">development</tspan></text></g>
<g id="n-bvd"><rect class="n w" x="7292.6" y="716" width="91.7" height="48"/><text class="t" x="7338.4" y="736.6">blood vessel<tspan x="7338.4" dy="14.7">development</tspan></text></g>
<g id="n-bvm"><rect class="n lb" x="7331.4" y="814" width="107" height="48"/><text class="t" x="7384.9" y="834.6">blood vessel<tspan x="7384.9" dy="14.7">morphogenesis</tspan></text></g>
</g>
</svg>
